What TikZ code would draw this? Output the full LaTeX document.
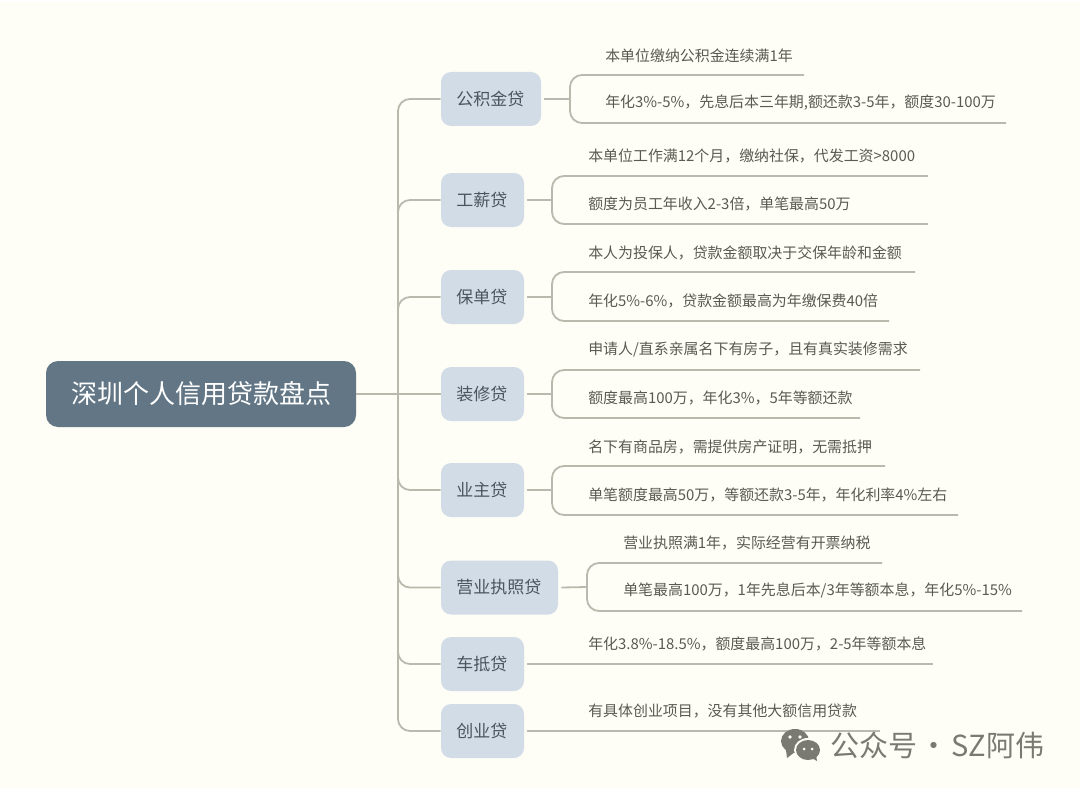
\documentclass[tikz,border=0pt]{standalone}
\usepackage{fontspec}
\setmainfont{Noto Sans CJK SC}
\definecolor{bgc}{HTML}{FEFEF6}
\definecolor{linec}{HTML}{B9B9AE}
\definecolor{rootc}{HTML}{627685}
\definecolor{branchc}{HTML}{D2DCE7}
\definecolor{branchtext}{HTML}{4A5560}
\definecolor{leaftext}{HTML}{5A5A55}
\definecolor{markc}{HTML}{7A7A72}
\tikzset{
  rootbox/.style={fill=rootc,rounded corners=9pt,text=white,font=\fontsize{19.5}{22}\selectfont,align=center,inner sep=0pt},
  branchbox/.style={fill=branchc,rounded corners=7.5pt,text=branchtext,font=\fontsize{12.75}{15}\selectfont,align=center,inner sep=0pt},
  leaftxt/.style={anchor=west,text=leaftext,font=\fontsize{11.2}{13}\selectfont,inner sep=0pt},
  conn/.style={draw=linec,line width=1.35pt,rounded corners=9pt},
  markfont/.style={anchor=west,text=markc,font=\fontsize{21.75}{25}\selectfont,inner sep=0pt},
}
\begin{document}
\begin{tikzpicture}[x=0.75pt,y=-0.75pt]
\useasboundingbox (0,0) rectangle (1080,788);
\fill[bgc] (0,0) rectangle (1080,788);
\fill[white] (0,0) rectangle (1080,2);

% nodes
\node[rootbox,minimum width=232.5pt,minimum height=49.5pt] (root) at (201,394) {深圳个人信用贷款盘点};
\node[branchbox,minimum width=75pt,minimum height=40.5pt] (b1) at (491,99) {\kern-1pt 公积金贷};
\node[branchbox,minimum width=62.25pt,minimum height=40.5pt] (b2) at (482.5,200) {\kern-1pt 工薪贷};
\node[branchbox,minimum width=62.25pt,minimum height=40.5pt] (b3) at (482.5,297) {\kern-1pt 保单贷};
\node[branchbox,minimum width=62.25pt,minimum height=40.5pt] (b4) at (482.5,394) {\kern-1pt 装修贷};
\node[branchbox,minimum width=62.25pt,minimum height=40.5pt] (b5) at (482.5,490) {\kern-1pt 业主贷};
\node[branchbox,minimum width=87.75pt,minimum height=40.5pt] (b6) at (499.5,587.5) {\kern-1pt 营业执照贷};
\node[branchbox,minimum width=62.25pt,minimum height=40.5pt] (b7) at (482.5,664) {\kern-1pt 车抵贷};
\node[branchbox,minimum width=62.25pt,minimum height=40.5pt] (b8) at (482.5,731) {\kern-1pt 创业贷};

% free ends
\coordinate (spine) at (398,394);
\coordinate (t1) at (804,75);  \coordinate (u1) at (1006,123);
\coordinate (t2) at (928,176); \coordinate (u2) at (928,224);
\coordinate (t3) at (915,272); \coordinate (u3) at (889,321);
\coordinate (t4) at (920,370); \coordinate (u4) at (860,418);
\coordinate (t5) at (885,466); \coordinate (u5) at (958,515);
\coordinate (t6) at (882,563); \coordinate (u6) at (1022,611);
\coordinate (e7) at (933,664); \coordinate (e8) at (880,731);

% root to spine and spine to branches
\draw[conn] (root.east) -- (b4.west);
\foreach \b in {b1,b2,b3,b5,b6,b7,b8}{
  \draw[conn] (spine) -- (spine |- \b.west) -- (\b.west);
}

% branch stems and brackets
\draw[conn,rounded corners=0pt] (b1.east) ++(3,0) -- (570,99);
\draw[conn] (t1) -- (570,75) -- (570,123) -- (u1);
\draw[conn,rounded corners=0pt] (b2.east) ++(3,0) -- (552,200);
\draw[conn] (t2) -- (552,176) -- (552,224) -- (u2);
\draw[conn,rounded corners=0pt] (b3.east) ++(3,0) -- (552,297);
\draw[conn] (t3) -- (552,272) -- (552,321) -- (u3);
\draw[conn,rounded corners=0pt] (b4.east) ++(3,0) -- (552,394);
\draw[conn] (t4) -- (552,370) -- (552,418) -- (u4);
\draw[conn,rounded corners=0pt] (b5.east) ++(3,0) -- (552,490);
\draw[conn] (t5) -- (552,466) -- (552,515) -- (u5);
\draw[conn,rounded corners=0pt] (b6.east) ++(3,0) -- (587,587);
\draw[conn] (t6) -- (587,563) -- (587,611) -- (u6);
\draw[conn] (b7.east) ++(3,0) -- (e7);
\draw[conn] (b8.east) ++(3,0) -- (e8);

% leaf texts
\node[leaftxt] (l1a) at (605,55.5) {本单位缴纳公积金连续满1年};
\node[leaftxt] (l1b) at (605,102.5) {年化3\%-5\%，先息后本三年期,额还款3-5年，额度30-100万};
\node[leaftxt] (l2a) at (588,155.5) {本单位工作满12个月，缴纳社保，代发工资>8000};
\node[leaftxt] (l2b) at (588,203.5) {额度为员工年收入2-3倍，单笔最高50万};
\node[leaftxt] (l3a) at (588,252.5) {本人为投保人，贷款金额取决于交保年龄和金额};
\node[leaftxt] (l3b) at (588,300.5) {年化5\%-6\%，贷款金额最高为年缴保费40倍};
\node[leaftxt] (l4a) at (588,349.5) {申请人/直系亲属名下有房子，且有真实装修需求};
\node[leaftxt] (l4b) at (588,397.5) {额度最高100万，年化3\%，5年等额还款};
\node[leaftxt] (l5a) at (588,446.5) {名下有商品房，需提供房产证明，无需抵押};
\node[leaftxt] (l5b) at (588,494.5) {单笔额度最高50万，等额还款3-5年，年化利率4\%左右};
\node[leaftxt] (l6a) at (623,542.5) {营业执照满1年，实际经营有开票纳税};
\node[leaftxt] (l6b) at (623,590.5) {单笔最高100万，1年先息后本/3年等额本息，年化5\%-15\%};
\node[leaftxt] (l7) at (588,643.5) {年化3.8\%-18.5\%，额度最高100万，2-5年等额本息};
\node[leaftxt] (l8) at (588,710.5) {有具体创业项目，没有其他大额信用贷款};

% watermark
\fill[markc] (795,741) ellipse [x radius=14,y radius=12];
\fill[markc] (786,750) -- (787,758) -- (795,752) -- cycle;
\fill[bgc] (808,750) ellipse [x radius=14,y radius=12];
\fill[markc] (808,750) ellipse [x radius=12,y radius=10];
\fill[markc] (810,757) -- (817,761) -- (816,755) -- cycle;
\fill[bgc] (790,737) circle (1.8) (800,737) circle (1.8) (804,749) circle (1.5) (812,749) circle (1.5);
\node[markfont] (wm) at (830,745) {公众号\kern2pt·\kern2pt SZ阿伟};
\end{tikzpicture}
\end{document}
